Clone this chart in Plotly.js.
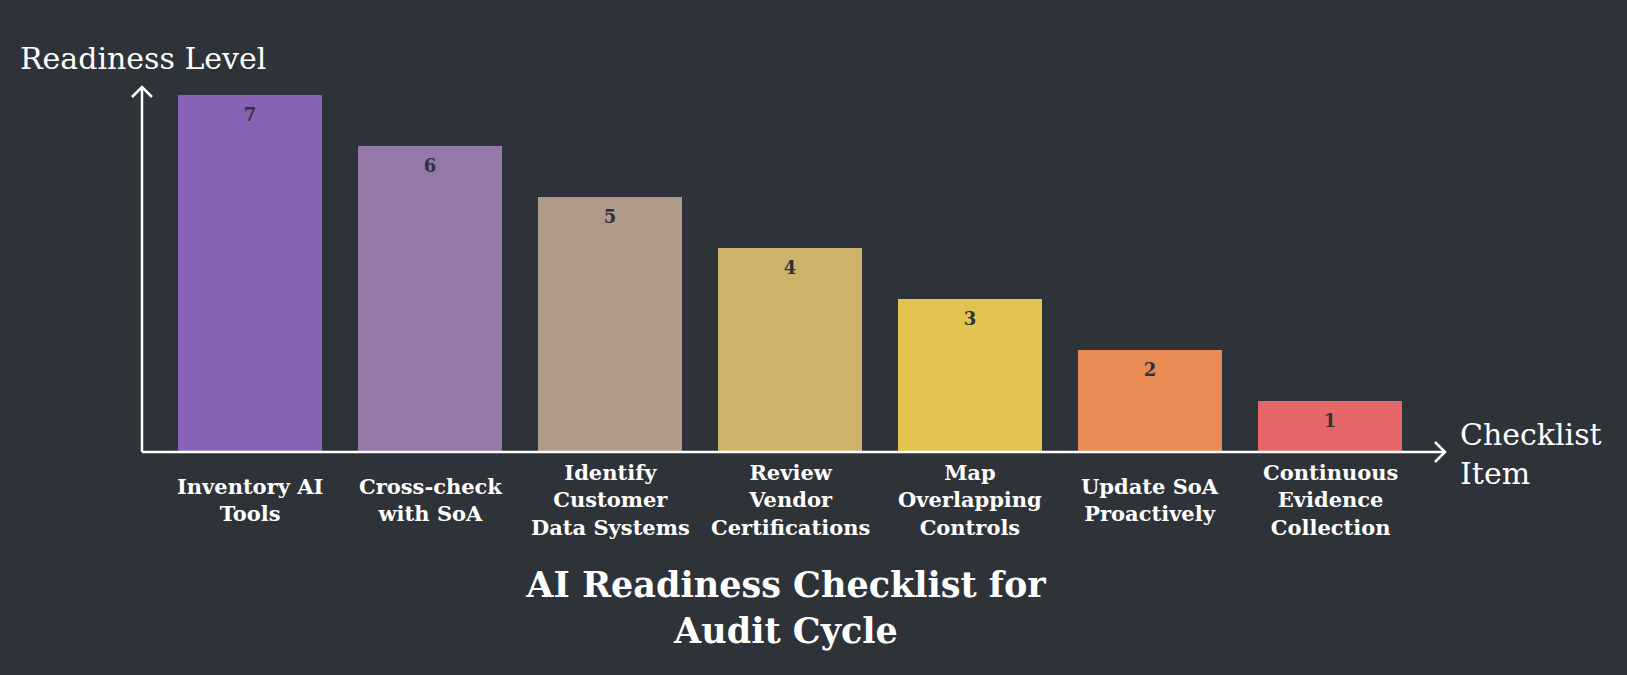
<!DOCTYPE html>
<html>
<head>
<meta charset="utf-8">
<script src="https://cdn.plot.ly/plotly-3.0.1.min.js"></script>
<style>
html,body{margin:0;padding:0;background:#2e3239;}
#chart{width:1627px;height:675px;}
</style>
</head>
<body>
<div id="chart"></div>
<script>
// ---- data ----
const categories = ["Inventory AI Tools","Cross-check with SoA","Identify Customer Data Systems","Review Vendor Certifications","Map Overlapping Controls","Update SoA Proactively","Continuous Evidence Collection"];
const tickLabels = ["Inventory AI<br>Tools","Cross-check<br>with SoA","Identify<br>Customer<br>Data Systems","Review<br>Vendor<br>Certifications","Map<br>Overlapping<br>Controls","Update SoA<br>Proactively","Continuous<br>Evidence<br>Collection"];
const readiness = [7, 6, 5, 4, 3, 2, 1];
const barColors = ["#8763b8","#9479a8","#b09a8a","#cdb46a","#e2c34f","#e98b54","#e56768"];
const chartTitle = "AI Readiness Checklist for<br>Audit Cycle";
const yTitle = "Readiness Level";
const xTitle = "Checklist<br>Item";

// ---- layout geometry ----
const W = 1627, H = 675;
const M = {l:142, r:182, t:87, b:223};
const pw = W - M.l - M.r, ph = H - M.t - M.b;
const bg = "#2e3239";
const serif = "DejaVu Serif, Liberation Serif, serif";

const idx = categories.map((c,i)=>i);

const bars = {
  type: "bar",
  x: idx,
  y: readiness,
  marker: {color: barColors, line: {width: 0}},
  hoverinfo: "skip",
  showlegend: false
};
const labels = {
  type: "scatter",
  mode: "text",
  x: idx,
  y: readiness.map(v => v - 0.42),
  text: readiness.map(String),
  textposition: "middle center",
  textfont: {family: serif, size: 18, color: "#2e3239", weight: "bold"},
  hoverinfo: "skip",
  showlegend: false
};

const ax = 10/pw, ay = 10/ph;
const shapes = [
  {type:"line", xref:"paper", yref:"paper", x0:0, y0:0, x1:1, y1:0, line:{color:"#ffffff", width:2.5}},
  {type:"path", xref:"paper", yref:"paper", path:`M ${1-ax} ${ay} L 1 0 L ${1-ax} ${-ay}`, line:{color:"#ffffff", width:2.5}},
  {type:"line", xref:"paper", yref:"paper", x0:0, y0:0, x1:0, y1:1, line:{color:"#ffffff", width:2.5}},
  {type:"path", xref:"paper", yref:"paper", path:`M ${-ax} ${1-ay} L 0 1 L ${ax} ${1-ay}`, line:{color:"#ffffff", width:2.5}}
];

const annotations = tickLabels.map((t,i)=>({
  x: i, xref:"x", y: (452-500)/ph, yref:"paper",
  text: t, showarrow:false, xanchor:"center", yanchor:"middle", align:"center",
  font:{family:serif, size:21, color:"#ffffff", weight:"bold"}
}));
annotations.push({
  x:(18-M.l)/pw, xref:"paper", y:(452-58)/ph, yref:"paper",
  text:yTitle, showarrow:false, xanchor:"left", yanchor:"middle",
  font:{family:serif, size:30, color:"#ffffff"}
});
annotations.push({
  x:(1458-M.l)/pw, xref:"paper", y:(452-454)/ph, yref:"paper",
  text:xTitle, showarrow:false, xanchor:"left", yanchor:"middle", align:"left",
  font:{family:serif, size:30, color:"#ffffff"}
});

const layout = {
  width: W, height: H,
  margin: M,
  paper_bgcolor: bg, plot_bgcolor: bg,
  bargap: 0.2,
  title: {
    text: chartTitle, x: 786/W, xanchor:"center", xref:"container",
    y: 1-597/H, yanchor:"middle", yref:"container",
    font:{family:serif, size:35, color:"#ffffff", weight:"bold"}
  },
  xaxis: {
    range: [-0.6, -0.6 + pw/180],
    showticklabels:false, showgrid:false, zeroline:false, showline:false, ticks:"",
    tickvals: idx
  },
  yaxis: {
    range: [0, ph/51],
    showticklabels:false, showgrid:false, zeroline:false, showline:false, ticks:""
  },
  shapes: shapes,
  annotations: annotations
};

Plotly.newPlot("chart", [bars, labels], layout, {displayModeBar:false, staticPlot:true});
</script>
</body>
</html>
